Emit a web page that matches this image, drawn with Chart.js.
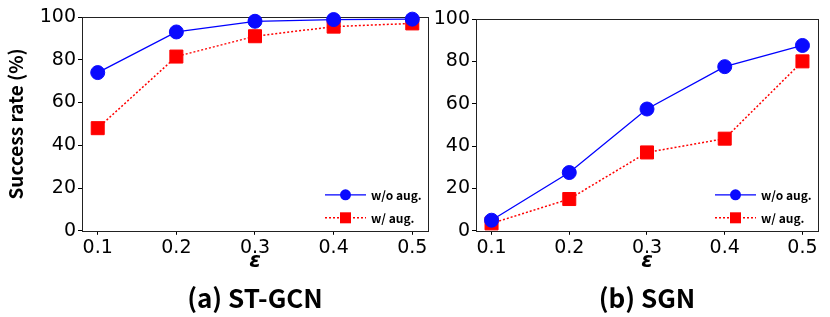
<!DOCTYPE html>
<html>
<head>
<meta charset="utf-8">
<script src="https://cdn.jsdelivr.net/npm/chart.js@4.4.0/dist/chart.umd.min.js"></script>
<style>
  body { margin: 0; background: #fff; }
  #wrap { position: relative; width: 830px; height: 317px; }
  .panel { position: absolute; top: 0; height: 317px; }
</style>
</head>
<body>
<div id="wrap">
  <div class="panel" style="left:0;width:430px"><canvas id="chart-a" width="430" height="317"></canvas></div>
  <div class="panel" style="left:430px;width:400px"><canvas id="chart-b" width="400" height="317"></canvas></div>
</div>
<script>
// values
var epsilons = [0.1, 0.2, 0.3, 0.4, 0.5];
var yTicks = [0, 20, 40, 60, 80, 100];
var legendLabels = ["w/o aug.", "w/ aug."];
var panelTitles = ["(a) ST-GCN", "(b) SGN"];
var stgcnNoAug = [74, 93, 98, 98.8, 99];
var stgcnAug = [48, 81.5, 91, 95.5, 97];
var sgnNoAug = [5, 27.5, 57.5, 77.5, 87.5];
var sgnAug = [3.5, 15, 37, 43.5, 80];

var CJK = "'Noto Sans CJK JP', 'Noto Sans', sans-serif";
var NUM = "'DejaVu Sans', sans-serif";

// full box round the plot area
var frame = {
  id: "frame",
  beforeDatasetsDraw: function (chart) {
    var a = chart.chartArea, c = chart.ctx;
    c.save();
    c.strokeStyle = "#222";
    c.lineWidth = 1;
    c.strokeRect(Math.round(a.left) + 0.5, Math.round(a.top) + 0.5,
      Math.round(a.right - a.left), Math.round(a.bottom - a.top));
    c.restore();
  }
};

// small legend in the lower right corner
var cornerLegend = {
  id: "cornerLegend",
  afterDraw: function (chart) {
    var a = chart.chartArea, c = chart.ctx;
    chart.data.datasets.forEach(function (ds, i) {
      var y = a.bottom - 36 + i * 23;
      var x0 = a.right - 103;
      c.save();
      c.strokeStyle = ds.borderColor;
      c.lineWidth = ds.borderWidth;
      c.setLineDash(ds.borderDash || []);
      c.beginPath();
      c.moveTo(x0, y);
      c.lineTo(x0 + 41, y);
      c.stroke();
      c.setLineDash([]);
      c.fillStyle = ds.pointBackgroundColor;
      if (ds.pointStyle === "rect") {
        c.fillRect(x0 + 15, y - 5.5, 11, 11);
      } else {
        c.beginPath();
        c.arc(x0 + 20.5, y, 5.5, 0, Math.PI * 2);
        c.fill();
      }
      c.fillStyle = "#000";
      c.font = "bold 12px " + CJK;
      c.textBaseline = "middle";
      c.textAlign = "left";
      c.fillText(legendLabels[i], x0 + 46, y + 1);
      c.restore();
    });
  }
};

function makeChart(id, noAug, aug, title, yWidth, showYTitle, padTop, padRight) {
  var ctx = document.getElementById(id).getContext("2d");
  return new Chart(ctx, {
    type: "line",
    data: {
      datasets: [{
        label: legendLabels[0],
        data: epsilons.map(function (e, i) { return { x: e, y: noAug[i] }; }),
        borderColor: "#0000ff",
        borderWidth: 1.3,
        pointStyle: "circle",
        pointRadius: 7,
        pointBackgroundColor: "#0a0aff",
        pointBorderColor: "#0a0aff",
        pointBorderWidth: 1,
        clip: false
      }, {
        label: legendLabels[1],
        data: epsilons.map(function (e, i) { return { x: e, y: aug[i] }; }),
        borderColor: "#ff0000",
        borderWidth: 1.5,
        borderDash: [2, 2],
        pointStyle: "rect",
        pointRadius: 9.2,
        pointBackgroundColor: "#ff0000",
        pointBorderColor: "#ff0000",
        pointBorderWidth: 1,
        clip: false
      }]
    },
    options: {
      responsive: false,
      animation: false,
      layout: { autoPadding: false, padding: { top: padTop, right: padRight, left: 0, bottom: 0 } },
      plugins: {
        legend: { display: false },
        tooltip: { enabled: false },
        title: {
          display: true,
          position: "bottom",
          fullSize: false,
          text: title,
          color: "#000",
          font: { family: CJK, size: 26, weight: "bold" },
          padding: { top: 9, bottom: 3 }
        }
      },
      scales: {
        x: {
          type: "linear",
          min: 0.08,
          max: 0.52,
          afterBuildTicks: function (s) { s.ticks = epsilons.map(function (v) { return { value: v }; }); },
          afterFit: function (s) { s.height = 43; s.paddingLeft = 0; s.paddingRight = 0; },
          ticks: {
            color: "#000",
            font: { family: NUM, size: 19 },
            padding: 2,
            callback: function (v) { return v.toFixed(1); }
          },
          grid: { drawOnChartArea: false, drawTicks: true, tickLength: 4, color: "#000" },
          border: { display: false },
          title: {
            display: true,
            text: "ε",
            color: "#000",
            font: { family: NUM, size: 21, weight: "bold", style: "italic" },
            padding: 0
          }
        },
        y: {
          min: 0,
          max: 100,
          afterBuildTicks: function (s) { s.ticks = yTicks.map(function (v) { return { value: v }; }); },
          afterFit: function (s) { s.width = yWidth; },
          ticks: { color: "#000", font: { family: NUM, size: 19 }, padding: 2 },
          grid: { drawOnChartArea: false, drawTicks: true, tickLength: 4, color: "#000" },
          border: { display: false },
          title: {
            display: showYTitle,
            text: "Success rate (%)",
            color: "#000",
            font: { family: CJK, size: 19, weight: "bold" },
            padding: { top: 4, bottom: 0 }
          }
        }
      }
    },
    plugins: [frame, cornerLegend]
  });
}

makeChart("chart-a", stgcnNoAug, stgcnAug, panelTitles[0], 82, true, 17, 2);
makeChart("chart-b", sgnNoAug, sgnAug, panelTitles[1], 46, false, 19, 12);
</script>
</body>
</html>
